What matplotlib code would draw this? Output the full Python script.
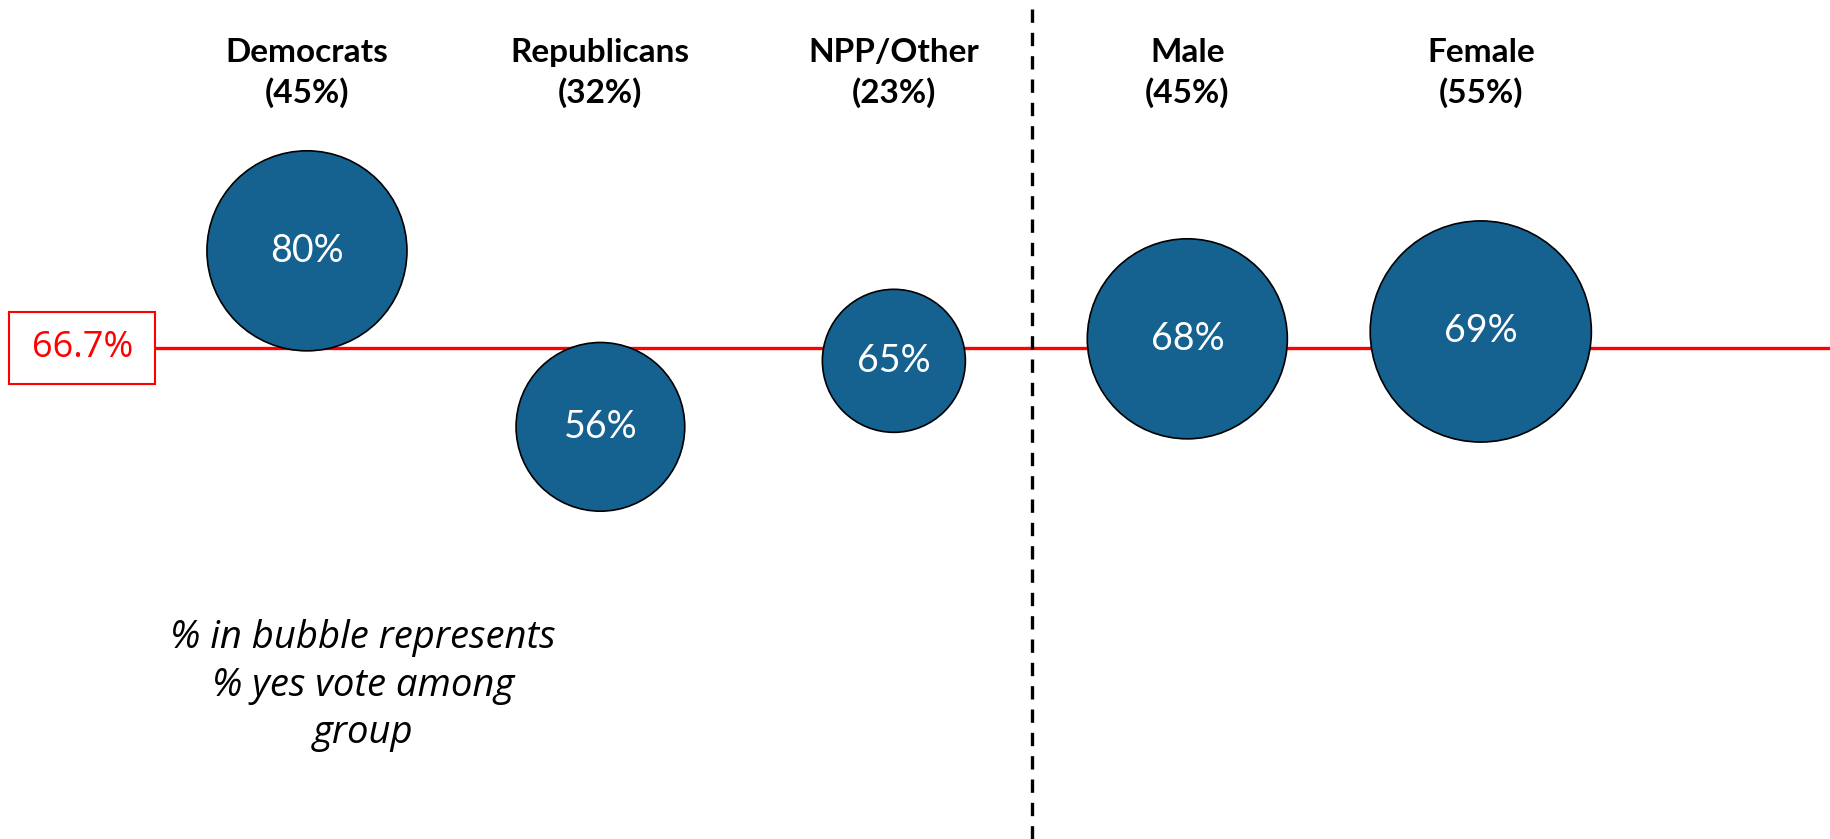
import numpy as np
import matplotlib.pyplot as plt
from matplotlib.patches import Rectangle

groups = ['Democrats', 'Republicans', 'NPP/Other', 'Male', 'Female']
group_share = [45, 32, 23, 45, 55]
yes_vote = [80, 56, 65, 68, 69]
overall_yes = 66.7
note = '% in bubble represents\n% yes vote among\ngroup'

bubble_color = '#156190'

fig = plt.figure(figsize=(18.3, 8.39), dpi=100)
ax = fig.add_axes([0, 0, 1, 1])
ax.set_xlim(-1.046, 5.19)
ax.set_ylim(-0.2, 114.2)
ax.axis('off')

x = np.arange(len(groups))

# overall reference line + label box
ax.hlines(overall_yes, -0.518, 5.19, color='red', lw=2.4, zorder=1)
ax.add_patch(Rectangle((-1.015, overall_yes - 4.9), 0.497, 9.8, fc='white',
                       ec='red', lw=1.5, zorder=2))
ax.text(-0.766, overall_yes, f'{overall_yes}%', color='red', fontsize=26,
        family='Open Sans', ha='center', va='center', zorder=3)

# divider between party and gender
ax.axvline(2.47, color='black', lw=2.4, ls=(0, (4, 3)), zorder=1)

# bubbles, area ~ group share
ax.scatter(x, yes_vote, s=np.array(group_share) * 461, color=bubble_color,
           edgecolor='black', linewidth=1.2, zorder=3)
for xi, v in zip(x, yes_vote):
    ax.text(xi, v, f'{v}%', color='white', fontsize=27, family='Lato',
            ha='center', va='center', zorder=4)

# column headers
for xi, g, s in zip(x, groups, group_share):
    ax.text(xi, 104.3, f'{g}\n({s}%)', fontsize=24, fontweight='bold',
            family='Lato', ha='center', va='center', linespacing=1.4)

ax.text(0.19, 20.7, note, fontsize=27.5, style='italic', family='Open Sans',
        ha='center', va='center', linespacing=1.32)

fig.savefig('out.png', dpi=100)
